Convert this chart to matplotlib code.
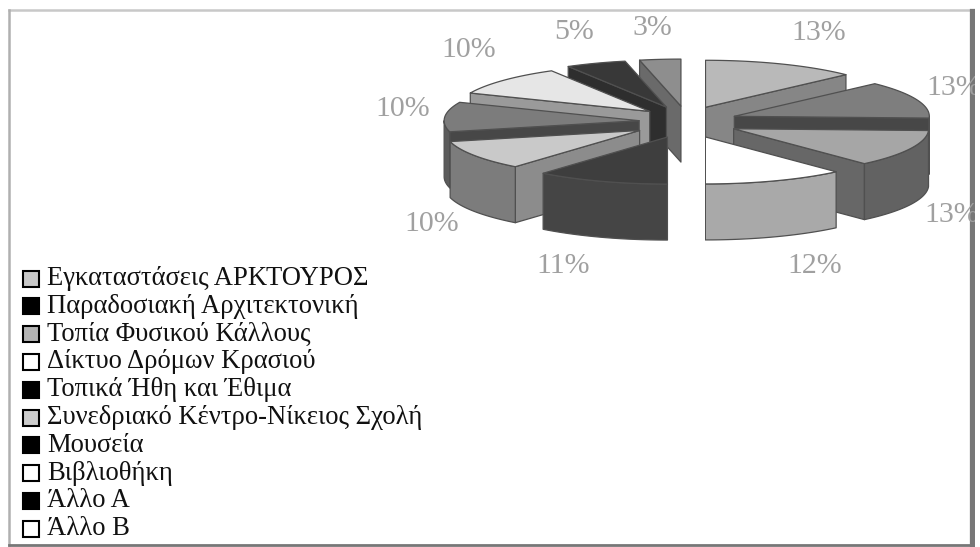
import numpy as np
import matplotlib
matplotlib.use("Agg")
import matplotlib.pyplot as plt
from matplotlib.patches import Polygon, Rectangle

# data, clockwise from 12 o'clock
# the picture only prints rounded percents, decimals
labels = ["Εγκαταστάσεις ΑΡΚΤΟΥΡΟΣ", "Παραδοσιακή Αρχιτεκτονική", "Τοπία Φυσικού Κάλλους",
          "Δίκτυο Δρόμων Κρασιού", "Τοπικά Ήθη και Έθιμα", "Συνεδριακό Κέντρο-Νίκειος Σχολή",
          "Μουσεία", "Βιβλιοθήκη", "Άλλο Α", "Άλλο Β"]
values = [12.8, 12.8, 12.7, 11.7, 11.0, 10.2, 10.2, 10.2, 5.0, 3.4]

# colours per slice
top_col = ["#b9b9b9", "#7e7e7e", "#a6a6a6", "#ffffff", "#3e3e3e",
           "#c9c9c9", "#7c7c7c", "#e6e6e6", "#383838", "#8e8e8e"]
wall_col = ["#868686", "#474747", "#676767", "#a9a9a9", "#404040",
            "#8c8c8c", "#474747", "#9a9a9a", "#2e2e2e", "#6a6a6a"]
rim_col = ["#868686", "#5c5c5c", "#626262", "#a9a9a9", "#454545",
           "#7c7c7c", "#5c5c5c", "#9a9a9a", "#2e2e2e", "#6a6a6a"]
swatch_col = ["#c8c8c8", "#000000", "#b4b4b4", "#ffffff", "#000000",
              "#cccccc", "#000000", "#ffffff", "#000000", "#ffffff"]

# pie layout in pixels
cx, cy = 682, 122
rx, ry = 195, 47
depth = 56
edge = "#505050"
expl_x = [60, 56, 57, 65, 43, 50, 43, 43, 43, 10]
expl_y = 16
# the scan has a blank strip down the middle of the pie
clip_x = [(705, 980), (705, 980), (705, 980), (705, 980), (0, 670),
          (0, 681), (0, 681), (0, 681), (0, 681), (0, 681.5)]

label_pos = [(819, 33), (954, 88), (952, 215), (815, 266), (563, 266),
             (432, 224), (403, 109), (469, 50), (574, 32), (652, 28)]

fig = plt.figure(figsize=(9.8, 5.47), dpi=100)
ax = fig.add_axes([0, 0, 1, 1])
ax.set_xlim(0, 980)
ax.set_ylim(547, 0)
ax.axis("off")

angles = np.cumsum([0] + values) * 3.6
order = [0, 1, 2, 3, 9, 8, 7, 6, 5, 4]  # back to front


def pt(ax0, ay0, deg):
    a = np.radians(deg)
    return ax0 + rx * np.sin(a), ay0 - ry * np.cos(a)


def add(points, color, i):
    p = Polygon(points, closed=True, facecolor=color, edgecolor=edge, lw=0.9, joinstyle="round")
    ax.add_patch(p)
    x0, x1 = clip_x[i]
    p.set_clip_path(Rectangle((x0, 0), x1 - x0, 547, transform=ax.transData))


for i in order:
    a1, a2 = angles[i], angles[i + 1]
    mid = np.radians((a1 + a2) / 2)
    ax0 = cx + expl_x[i] * np.sin(mid)
    ay0 = cy - expl_y * np.cos(mid)

    # straight walls
    for deg, show in [(a1, 180 < a1 < 360), (a2, 0 < a2 < 180)]:
        if show:
            x, y = pt(ax0, ay0, deg)
            add([(ax0, ay0), (x, y), (x, y + depth), (ax0, ay0 + depth)], wall_col[i], i)

    # curved outer wall, only the part facing us
    lo, hi = max(a1, 90), min(a2, 270)
    if lo < hi:
        arc = [pt(ax0, ay0, d) for d in np.linspace(lo, hi, 40)]
        low = [(x, y + depth) for x, y in arc[::-1]]
        add(arc + low, rim_col[i], i)

    # top face
    arc = [pt(ax0, ay0, d) for d in np.linspace(a1, a2, 40)]
    add([(ax0, ay0)] + arc, top_col[i], i)

for i, (x, y) in enumerate(label_pos):
    ax.text(x, y, "%.0f%%" % values[i], ha="center", va="center", color="#a0a0a0",
            fontsize=21.5, family="Liberation Serif")

# legend
for i, name in enumerate(labels):
    y = 278.5 + i * 27.8
    ax.add_patch(Rectangle((22.5, y - 8), 16, 16, facecolor=swatch_col[i], edgecolor="black", lw=1.5))
    ax.text(47, y, name, ha="left", va="center", color="#111111", fontsize=19.2,
            family="Liberation Serif")

# frame of the scanned page
ax.plot([9, 972], [10, 10], color="#c8c8c8", lw=1.8)
ax.plot([9, 9], [10, 545], color="#b0b0b0", lw=1.8)
ax.plot([9, 973], [545, 545], color="#777777", lw=2)
ax.plot([972.5, 972.5], [12, 545], color="#777777", lw=4.5)
ax.add_patch(Rectangle((975, 0), 5, 547, facecolor="white", edgecolor="none", zorder=5))

fig.savefig("out.png", dpi=100)
plt.close(fig)
